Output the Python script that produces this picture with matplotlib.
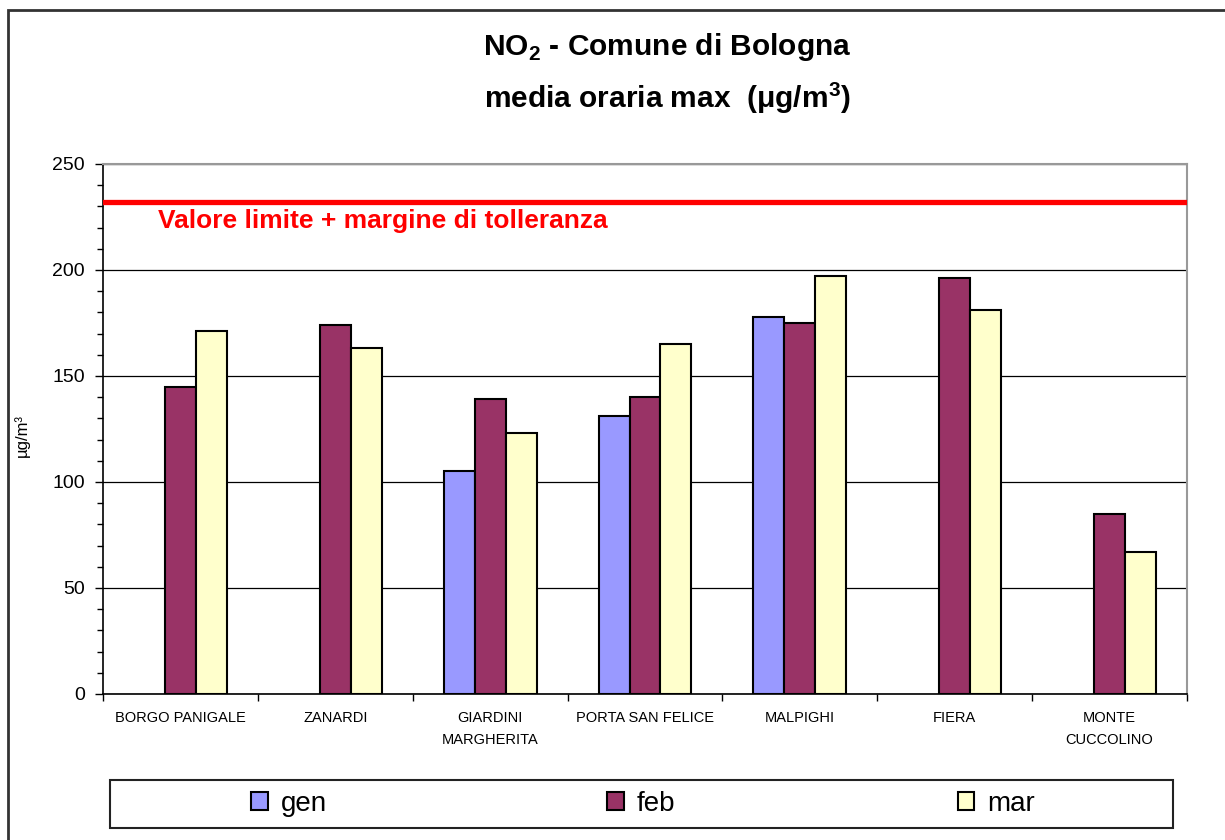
import numpy as np
import matplotlib
matplotlib.use("Agg")
import matplotlib.pyplot as plt
from matplotlib.patches import Patch, Rectangle
from matplotlib.ticker import MultipleLocator

plt.rcParams['font.family'] = ['Liberation Sans', 'DejaVu Sans']
plt.rcParams['mathtext.fontset'] = 'custom'
plt.rcParams['mathtext.rm'] = 'Liberation Sans'
plt.rcParams['mathtext.bf'] = 'Liberation Sans:bold'

stations = ['BORGO PANIGALE', 'ZANARDI', 'GIARDINI\nMARGHERITA', 'PORTA SAN FELICE',
            'MALPIGHI', 'FIERA', 'MONTE\nCUCCOLINO']
months = ['gen', 'feb', 'mar']
gen = [np.nan, np.nan, 105, 131, 178, np.nan, np.nan]
feb = [145, 174, 139, 140, 175, 196, 85]
mar = [171, 163, 123, 165, 197, 181, 67]
limit = 232
colors = ['#9999FF', '#993366', '#FFFFCC']

fig = plt.figure(figsize=(12.25, 8.4), dpi=100)
ax = fig.add_axes([103 / 1225, 1 - 694 / 840, (1187 - 103) / 1225, (694 - 164) / 840])

x = np.arange(len(stations))
w = 0.2
for k, (vals, col) in enumerate(zip([gen, feb, mar], colors)):
    ax.bar(x + (k - 1) * w, vals, w, color=col, edgecolor='black', linewidth=1.5, zorder=3)

ax.axhline(limit, color='red', lw=3.8, zorder=4)
fig.text(158 / 1225, 1 - 228 / 840, 'Valore limite + margine di tolleranza', color='red',
         fontsize=19, fontweight='bold', va='baseline')

ax.set_xlim(-0.5, len(stations) - 0.5)
ax.set_ylim(0, 250)
ax.yaxis.set_major_locator(MultipleLocator(50))
ax.yaxis.set_minor_locator(MultipleLocator(10))
ax.set_xticks(np.arange(len(stations) + 1) - 0.5)
ax.set_xticklabels([])
ax.set_xticks(x, minor=True)
ax.set_xticklabels(stations, minor=True, fontsize=10.5, linespacing=1.8)
ax.tick_params(axis='x', which='minor', length=0, pad=12)
ax.tick_params(axis='x', which='major', length=5, direction='out', width=1)
ax.tick_params(axis='y', which='major', length=6, width=1, labelsize=14, pad=7)
ax.tick_params(axis='y', which='minor', length=4, width=1)
ax.grid(axis='y', which='major', color='black', lw=0.9)
ax.set_axisbelow(True)
for s in ['top', 'right']:
    ax.spines[s].set_color('#999999')
    ax.spines[s].set_linewidth(1.5)
for s in ['left', 'bottom']:
    ax.spines[s].set_linewidth(1.2)

# titles
fig.text(667 / 1225, 1 - 55 / 840, r'NO$_\mathbf{2}$ - Comune di Bologna', ha='center',
         va='baseline', fontsize=21.5, fontweight='bold')
fig.text(667 / 1225, 1 - 108 / 840, r'media oraria max  ($\mathbf{\mu}$g/m$^\mathbf{3}$)',
         ha='center', va='baseline', fontsize=21.5, fontweight='bold')
fig.text(22 / 1225, 1 - 435 / 840, 'µg/m³', rotation=90, ha='center', va='center', fontsize=12)

# legend box
fig.patches.append(Rectangle((110 / 1225, 1 - 828 / 840), (1173 - 110) / 1225, 48 / 840,
                             transform=fig.transFigure, fill=False, edgecolor='#222222', lw=1.5))
centers = [289, 641, 996]
for m, col, cx in zip(months, colors, centers):
    h = Patch(facecolor=col, edgecolor='black', lw=1.5)
    fig.legend([h], [m], loc='center', bbox_to_anchor=(cx / 1225, 1 - 804 / 840), frameon=False,
               prop={'size': 20}, handlelength=0.6, handleheight=0.6, handletextpad=0.45)

# outer frame
fig.patches.append(Rectangle((8 / 1225, -0.1), 1.2, 1.1 - 10 / 840, transform=fig.transFigure,
                             fill=False, edgecolor='#333333', lw=2))

fig.savefig('out.png', dpi=100)
